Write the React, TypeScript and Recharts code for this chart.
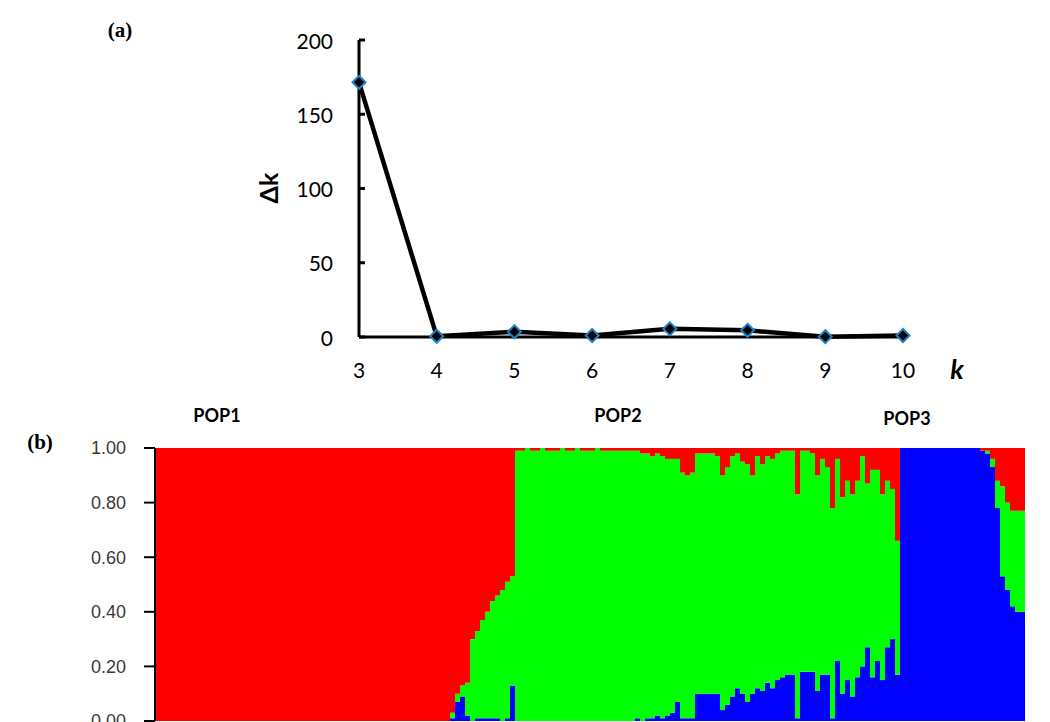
import { Bar, BarChart, Line, LineChart, XAxis, YAxis } from "recharts";

// (a) delta K against K
const kValues = [3, 4, 5, 6, 7, 8, 9, 10];
const deltaK = [171.5, 0.5, 3.5, 1, 5.5, 4.5, 0.2, 1];
const deltaKTicks = [0, 50, 100, 150, 200];

// (b) STRUCTURE membership, one entry per individual (left to right)
const shareTicks = [0, 0.2, 0.4, 0.6, 0.8, 1];
const popLabels = ["POP1", "POP2", "POP3"];

const redShare = [
  1, 1, 1, 1, 1, 1, 1, 1, 1, 1,
  1, 1, 1, 1, 1, 1, 1, 1, 1, 1,
  1, 1, 1, 1, 1, 1, 1, 1, 1, 1,
  1, 1, 1, 1, 1, 1, 1, 1, 1, 1,
  1, 1, 1, 1, 1, 1, 1, 1, 1, 1,
  1, 1, 1, 1, 1, 1, 1, 1, 1,
  0.97, 0.9, 0.87, 0.86, 0.7, 0.67, 0.63, 0.6, 0.56, 0.54, 0.52, 0.49, 0.47,
  0.01, 0.01, 0, 0.01, 0.01, 0, 0.01, 0.01, 0.01, 0, 0.01, 0.01,
  0, 0.01, 0.01, 0.01, 0, 0.01, 0.01, 0.01, 0.01, 0.01, 0.01, 0.01,
  0.01, 0.02, 0.02, 0.03, 0.02, 0.03, 0.04, 0.04, 0.04, 0.09, 0.1, 0.09,
  0.02, 0.02, 0.02, 0.02, 0.03, 0.1, 0.07, 0.03, 0.02, 0.05, 0.06, 0.1,
  0.03, 0.06, 0.03, 0.04, 0.02, 0.01, 0.01, 0.01, 0.17, 0.01, 0.01, 0.02,
  0.1, 0.04, 0.07, 0.22, 0.04, 0.18, 0.12, 0.17, 0.12, 0.03, 0.13, 0.08,
  0.08, 0.17, 0.12, 0.15, 0.34,
  0, 0, 0, 0, 0, 0, 0, 0, 0, 0, 0, 0, 0, 0, 0, 0,
  0.01, 0.01, 0.04, 0.12, 0.14, 0.2, 0.23, 0.23, 0.23,
];

const greenShare = [
  0, 0, 0, 0, 0, 0, 0, 0, 0, 0,
  0, 0, 0, 0, 0, 0, 0, 0, 0, 0,
  0, 0, 0, 0, 0, 0, 0, 0, 0, 0,
  0, 0, 0, 0, 0, 0, 0, 0, 0, 0,
  0, 0, 0, 0, 0, 0, 0, 0, 0, 0,
  0, 0, 0, 0, 0, 0, 0, 0, 0,
  0.02, 0.03, 0.04, 0.12, 0.3, 0.32, 0.36, 0.39, 0.43, 0.45, 0.48, 0.5, 0.4,
  0.99, 0.99, 1, 0.99, 0.99, 1, 0.99, 0.99, 0.99, 1, 0.99, 0.99,
  1, 0.99, 0.99, 0.99, 1, 0.99, 0.99, 0.99, 0.99, 0.99, 0.99, 0.99,
  0.98, 0.98, 0.97, 0.96, 0.96, 0.96, 0.94, 0.93, 0.89, 0.9, 0.89, 0.9,
  0.88, 0.88, 0.88, 0.88, 0.87, 0.86, 0.87, 0.88, 0.86, 0.85, 0.87, 0.8,
  0.85, 0.83, 0.83, 0.84, 0.83, 0.83, 0.82, 0.82, 0.82, 0.81, 0.81, 0.8,
  0.79, 0.79, 0.76, 0.77, 0.74, 0.72, 0.73, 0.74, 0.72, 0.77, 0.6, 0.76,
  0.7, 0.68, 0.61, 0.55, 0.49,
  0, 0, 0, 0, 0, 0, 0, 0, 0, 0, 0, 0, 0, 0, 0, 0,
  0, 0.01, 0.03, 0.1, 0.33, 0.32, 0.35, 0.37, 0.37,
];

const blueShare = [
  0, 0, 0, 0, 0, 0, 0, 0, 0, 0,
  0, 0, 0, 0, 0, 0, 0, 0, 0, 0,
  0, 0, 0, 0, 0, 0, 0, 0, 0, 0,
  0, 0, 0, 0, 0, 0, 0, 0, 0, 0,
  0, 0, 0, 0, 0, 0, 0, 0, 0, 0,
  0, 0, 0, 0, 0, 0, 0, 0, 0,
  0.01, 0.07, 0.09, 0.02, 0, 0.01, 0.01, 0.01, 0.01, 0.01, 0, 0.01, 0.13,
  0, 0, 0, 0, 0, 0, 0, 0, 0, 0, 0, 0,
  0, 0, 0, 0, 0, 0, 0, 0, 0, 0, 0, 0,
  0.01, 0, 0.01, 0.01, 0.02, 0.01, 0.02, 0.03, 0.07, 0.01, 0.01, 0.01,
  0.1, 0.1, 0.1, 0.1, 0.1, 0.04, 0.06, 0.09, 0.12, 0.1, 0.07, 0.1,
  0.12, 0.11, 0.14, 0.12, 0.15, 0.16, 0.17, 0.17, 0.01, 0.18, 0.18, 0.18,
  0.11, 0.17, 0.17, 0.01, 0.22, 0.1, 0.15, 0.09, 0.16, 0.2, 0.27, 0.16,
  0.22, 0.15, 0.27, 0.3, 0.17,
  1, 1, 1, 1, 1, 1, 1, 1, 1, 1, 1, 1, 1, 1, 1, 1,
  0.99, 0.98, 0.93, 0.78, 0.53, 0.48, 0.42, 0.4, 0.4,
];

const kData = kValues.map((k, i) => ({ k, dk: deltaK[i] }));
const structureData = redShare.map((r, i) => ({
  id: i + 1,
  blue: blueShare[i],
  green: greenShare[i],
  red: r,
}));

const sans = "Lato, 'Open Sans', sans-serif";

function DkTick(props: any) {
  const { x, y, payload } = props;
  return (
    <g>
      <line x1={x} x2={x + 6} y1={y} y2={y} stroke="#000" strokeWidth={3} />
      <text
        x={x - 26}
        y={y}
        textAnchor="end"
        dominantBaseline="central"
        fontSize={21}
        fontFamily={sans}
        fill="#000"
      >
        {payload.value}
      </text>
    </g>
  );
}

function Diamond(props: any) {
  const { cx, cy } = props;
  if (cx == null || cy == null) return null;
  const r = 6.5;
  return (
    <polygon
      points={`${cx},${cy - r} ${cx + r},${cy} ${cx},${cy + r} ${cx - r},${cy}`}
      fill="#000"
      stroke="#1f80c6"
      strokeWidth={2}
    />
  );
}

export default function App() {
  return (
    <div
      style={{
        position: "absolute",
        left: 0,
        top: 0,
        width: 1050,
        height: 722,
        overflow: "hidden",
        background: "#fff",
      }}
    >
      <div style={{ position: "absolute", left: 0, top: 0 }}>
        <LineChart
          width={1050}
          height={400}
          data={kData}
          margin={{ top: 40, right: 147, left: 299, bottom: 23 }}
        >
          <XAxis
            dataKey="k"
            type="number"
            domain={[3, 10]}
            ticks={kValues}
            interval={0}
            height={40}
            tickLine={false}
            tickSize={0}
            tickMargin={26}
            axisLine={{ stroke: "#000", strokeWidth: 3 }}
            tick={{ fill: "#000", fontSize: 21, fontFamily: sans }}
          />
          <YAxis
            domain={[0, 200]}
            ticks={deltaKTicks}
            interval={0}
            width={60}
            tickLine={false}
            tickSize={0}
            tickMargin={0}
            axisLine={{ stroke: "#000", strokeWidth: 3 }}
            tick={<DkTick />}
          />
          <Line
            dataKey="dk"
            type="linear"
            stroke="#000"
            strokeWidth={4.5}
            dot={<Diamond />}
            activeDot={false}
            isAnimationActive={false}
          />
        </LineChart>
      </div>

      <div style={{ position: "absolute", left: 0, top: 400 }}>
        <BarChart
          width={1050}
          height={322}
          data={structureData}
          margin={{ top: 48, right: 25, left: 95, bottom: 1 }}
          barCategoryGap={0}
          barGap={0}
        >
          <XAxis
            dataKey="id"
            height={0}
            tick={false}
            tickLine={false}
            axisLine={{ stroke: "#000", strokeWidth: 2 }}
          />
          <YAxis
            domain={[0, 1]}
            allowDataOverflow
            ticks={shareTicks}
            interval={0}
            width={60}
            tickSize={11}
            tickMargin={18}
            tickFormatter={(v: number) => v.toFixed(2)}
            tickLine={{ stroke: "#000", strokeWidth: 2 }}
            axisLine={{ stroke: "#000", strokeWidth: 2 }}
            tick={{ fill: "#3a3a3a", fontSize: 18, fontFamily: "'Liberation Sans', Arial, sans-serif" }}
          />
          <Bar dataKey="blue" stackId="q" fill="#0000ff" isAnimationActive={false} />
          <Bar dataKey="green" stackId="q" fill="#00ff00" isAnimationActive={false} />
          <Bar dataKey="red" stackId="q" fill="#ff0000" isAnimationActive={false} />
        </BarChart>
      </div>

      <svg
        width={1050}
        height={722}
        style={{ position: "absolute", left: 0, top: 0, pointerEvents: "none" }}
      >
        <text x={120} y={30} textAnchor="middle" dominantBaseline="central" fontSize={21} fontWeight="bold" fontFamily="'Liberation Serif', serif">
          (a)
        </text>
        <text x={40} y={442} textAnchor="middle" dominantBaseline="central" fontSize={21} fontWeight="bold" fontFamily="'Liberation Serif', serif">
          (b)
        </text>
        <text
          x={268}
          y={188}
          textAnchor="middle"
          dominantBaseline="central"
          fontSize={25}
          fontWeight="bold"
          fontFamily={sans}
          transform="rotate(-90 268 188)"
        >
          Δk
        </text>
        <text x={957} y={368} textAnchor="middle" dominantBaseline="central" fontSize={27} fontWeight="bold" fontStyle="italic" fontFamily={sans}>
          k
        </text>
        <text x={217} y={415} textAnchor="middle" dominantBaseline="central" fontSize={18} fontWeight="bold" fontFamily={sans}>
          {popLabels[0]}
        </text>
        <text x={618} y={415} textAnchor="middle" dominantBaseline="central" fontSize={18} fontWeight="bold" fontFamily={sans}>
          {popLabels[1]}
        </text>
        <text x={907} y={418} textAnchor="middle" dominantBaseline="central" fontSize={18} fontWeight="bold" fontFamily={sans}>
          {popLabels[2]}
        </text>
      </svg>
    </div>
  );
}
